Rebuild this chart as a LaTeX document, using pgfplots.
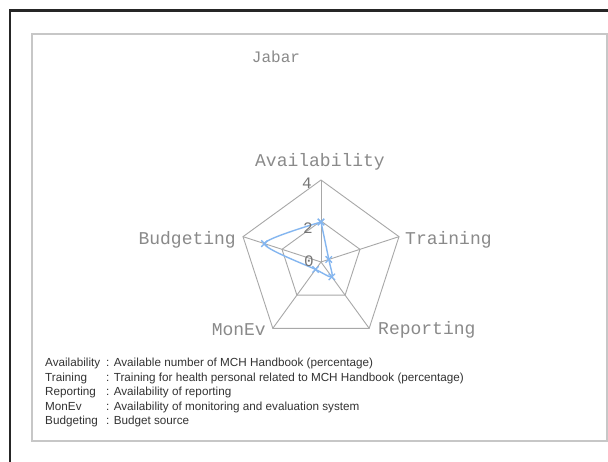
\documentclass[border=0pt]{standalone}
\usepackage{fontspec}
\setmainfont{Liberation Sans}
\newfontfamily\mono{Liberation Mono}
\usepackage{pgfplots}
\pgfplotsset{compat=1.18}
\usepgfplotslibrary{polar}
\definecolor{lblue}{HTML}{84B6F0}
\definecolor{gridc}{HTML}{A8A8A8}
\definecolor{txtc}{HTML}{8A8A8A}
\begin{document}
\begin{tikzpicture}[x=1pt,y=1pt]
\useasboundingbox (0,0) rectangle (608,462);
\fill[white] (0,0) rectangle (608,462);
% outer frame
\draw[color=black!85, line width=2.6pt] (10,-30) -- (10,451.5) -- (640,451.5);
% inner box
\draw[color=black!22, line width=1.8pt] (32,21) rectangle (607,428);
% title
\node[font=\mono\fontsize{16}{18}\selectfont, text=txtc] at (276,405) {Jabar};
\begin{polaraxis}[
  at={(321pt,200pt)}, anchor=center,
  width=164pt, height=164pt, scale only axis,
  ymin=0, ymax=4, xmin=0, xmax=360,
  hide axis, clip=false,
]
% grid
\addplot[gridc, line width=0.9pt, mark=none] coordinates {(90,4) (18,4) (-54,4) (-126,4) (162,4) (90,4)};
\addplot[gridc, line width=0.9pt, mark=none] coordinates {(90,2) (18,2) (-54,2) (-126,2) (162,2) (90,2)};
\addplot[gridc, line width=0.9pt, mark=none] coordinates {(90,0) (90,4)};
\addplot[gridc, line width=0.9pt, mark=none] coordinates {(18,0) (18,4)};
\addplot[gridc, line width=0.9pt, mark=none] coordinates {(-54,0) (-54,4)};
\addplot[gridc, line width=0.9pt, mark=none] coordinates {(-126,0) (-126,4)};
\addplot[gridc, line width=0.9pt, mark=none] coordinates {(162,0) (162,4)};
% data
\addplot[lblue, line width=1.4pt, mark=x, mark size=4.5pt, mark options={line width=1.3pt}, smooth, tension=0.4]
  coordinates {(90,1.95) (18,0.4) (-54,0.9) (-126,0.45) (162,2.9) (90,1.95)};
\end{polaraxis}
% axis labels
\begin{scope}[every node/.style={font=\mono\fontsize{18}{20}\selectfont, text=txtc, inner sep=0pt}]
\node[anchor=center] at (320,300) {Availability};
\node[anchor=west] at (405,222) {Training};
\node[anchor=west] at (378,132) {Reporting};
\node[anchor=east] at (266,132) {MonEv};
\node[anchor=east] at (236,222) {Budgeting};
\end{scope}
\begin{scope}[every node/.style={font=\mono\fontsize{16}{18}\selectfont, text=txtc!85!black, inner sep=0pt}]
\node at (307,279) {4};
\node at (308,234) {2};
\node at (309,201) {0};
\end{scope}
% footnote
\begin{scope}[every node/.style={font=\fontsize{11.7}{13}\selectfont, text=black!80, inner sep=0pt, anchor=base west}]
\node at (45,95) {Availability};
\node at (106,95) {: Available number of MCH Handbook (percentage)};
\node at (45,80.5) {Training};
\node at (106,80.5) {: Training for health personal related to MCH Handbook (percentage)};
\node at (45,66) {Reporting};
\node at (106,66) {: Availability of reporting};
\node at (45,51.5) {MonEv};
\node at (106,51.5) {: Availability of monitoring and evaluation system};
\node at (45,37) {Budgeting};
\node at (106,37) {: Budget source};
\end{scope}
\end{tikzpicture}
\end{document}
